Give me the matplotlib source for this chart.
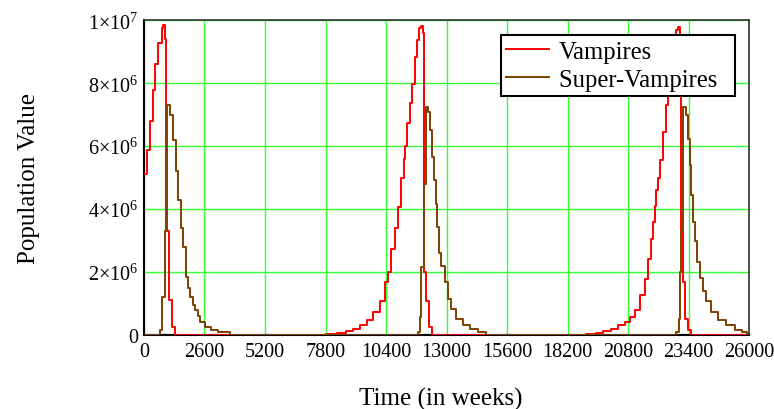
"""Vampire / super-vampire population cycles, Mathcad style."""

import matplotlib
matplotlib.use("Agg")
import matplotlib.pyplot as plt
from matplotlib.ticker import FixedLocator, FuncFormatter

plt.rcParams["font.family"] = ["Liberation Serif", "DejaVu Serif"]
plt.rcParams["mathtext.fontset"] = "custom"
plt.rcParams["mathtext.rm"] = "Liberation Serif"
plt.rcParams["mathtext.it"] = "Liberation Serif:italic"

# Vampires (time in weeks, population in millions)
vamp_weeks = [0, 116, 258, 373, 472, 614, 760, 829, 900, 950, 1060, 1190, 1330,
              7840, 8300, 8700, 8990, 9270, 9560, 9850, 10130, 10350, 10490,
              10630, 10780, 10920, 11060, 11160, 11230, 11300, 11420, 11520,
              11630, 11730, 11820, 11890, 11965, 12020, 12135, 12250, 12390,
              18980, 19400, 19720, 20080, 20360, 20650, 20860, 21080, 21290,
              21510, 21650, 21770, 21870, 21940, 22010, 22080, 22150, 22290,
              22410, 22510, 22610, 22720, 22840, 22940, 23010, 23085, 23150,
              23250, 23370, 23510, 26000]
vamp_pop = [5.1, 5.87, 6.8, 7.78, 8.6, 9.27, 9.75, 9.85, 9.4, 3.3, 1.1, 0.25, 0,
            0.03, 0.06, 0.12, 0.19, 0.3, 0.46, 0.72, 1.09, 1.68, 2.0,
            2.74, 3.38, 4.07, 4.97, 5.6, 6.0, 6.72, 7.36, 7.99,
            8.84, 9.37, 9.75, 9.82, 9.6, 2.0, 1.09, 0.25, 0,
            0.03, 0.06, 0.12, 0.19, 0.3, 0.42, 0.57, 0.78, 1.25,
            1.78, 2.42, 3.06, 3.6, 4.1, 4.6, 5.0, 5.55, 6.46,
            7.3, 8.05, 8.79, 9.32, 9.69, 9.8, 9.5, 3.28, 1.68,
            0.5, 0.14, 0, 0]

# Super-Vampires
super_weeks = [0, 700, 790, 900, 1000, 1110, 1260, 1370, 1470, 1590, 1660,
               1790, 1880, 1975, 2100, 2190, 2300, 2400, 2620, 2900, 3190, 3690,
               11780, 11850, 11920, 12020, 12106, 12206, 12280, 12380, 12460,
               12535, 12606, 12680, 12780, 12920, 13060, 13210, 13420, 13710,
               13990, 14350, 14710,
               22870, 22980, 23040, 23085, 23154, 23280, 23370, 23440, 23510,
               23584, 23655, 23755, 23870, 24010, 24156, 24370, 24656, 25016,
               25372, 25700, 25900, 26000]
super_pop = [0, 0.15, 1.2, 3.3, 7.3, 7.0, 6.2, 5.2, 4.3, 3.4, 2.8,
             1.84, 1.5, 1.2, 0.95, 0.8, 0.6, 0.4, 0.25, 0.14, 0.1, 0,
             0.1, 0.56, 2.16, 4.8, 7.25, 7.1, 6.5, 5.66, 4.91,
             4.17, 3.43, 2.6, 2.2, 1.68, 1.15, 0.83, 0.51, 0.3,
             0.17, 0.1, 0,
             0.1, 0.5, 2.0, 3.3, 7.25, 7.0, 6.24, 5.4, 4.45,
             3.6, 2.97, 2.33, 1.8, 1.38, 1.06, 0.74, 0.48, 0.32,
             0.15, 0.08, 0, 0]

# third trace that stays at zero (only shows where the other two lift off)
zero_weeks = [0, 26000]
zero_pop = [0, 0]

x_ticks = [0, 2600, 5200, 7800, 10400, 13000, 15600, 18200, 20800, 23400, 26000]
y_ticks = [0, 2e6, 4e6, 6e6, 8e6, 1e7]


def sci_label(val, _pos):
    """Mathcad-like 'a×10^n' labels."""
    if val == 0:
        return "0"
    exp = len(str(int(val))) - 1
    mant = int(round(val / 10 ** exp))
    return r"$%d{\times}10^{%d}$" % (mant, exp)


fig = plt.figure(figsize=(7.74, 4.10), dpi=100)
ax = fig.add_axes([0.186, 0.181, 0.782, 0.767])

ax.plot(zero_weeks, zero_pop, color="#3c3c46", lw=1.5, zorder=2)
ax.plot(vamp_weeks, [v * 1e6 for v in vamp_pop], drawstyle="steps-post",
        color="#ff0000", lw=1.4, label="Vampires", zorder=3)
ax.plot(super_weeks, [v * 1e6 for v in super_pop], drawstyle="steps-post",
        color="#804000", lw=1.4, label="Super-Vampires  ", zorder=4)

ax.set_xlim(0, 26000)
ax.set_ylim(0, 1e7)
ax.xaxis.set_major_locator(FixedLocator(x_ticks))
ax.yaxis.set_major_locator(FixedLocator(y_ticks))
ax.yaxis.set_major_formatter(FuncFormatter(sci_label))
ax.tick_params(length=0, labelsize=14.5, pad=5)
ax.tick_params(axis="y", pad=4)
ax.grid(True, color="#33ff33", lw=1.0)
ax.set_axisbelow(True)

for side in ["left", "bottom"]:
    ax.spines[side].set_color("black")
    ax.spines[side].set_linewidth(1.5)
for side in ["top", "right"]:
    ax.spines[side].set_color("#303030")
    ax.spines[side].set_linewidth(1.2)

ax.set_xlabel("Time (in weeks)", fontsize=18)
ax.set_ylabel("Population Value", fontsize=18)
ax.xaxis.set_label_coords(0.49, -0.165)
ax.yaxis.set_label_coords(-0.172, 0.5)

leg = ax.legend(loc="upper right", bbox_to_anchor=(0.9757, 0.952), fontsize=17.7,
                frameon=True, fancybox=False, framealpha=1, edgecolor="black",
                handlelength=1.75, labelspacing=0.25, borderpad=0.2,
                handletextpad=0.4, borderaxespad=0)
leg.get_frame().set_linewidth(1.5)

fig.savefig("out.png", dpi=100)
